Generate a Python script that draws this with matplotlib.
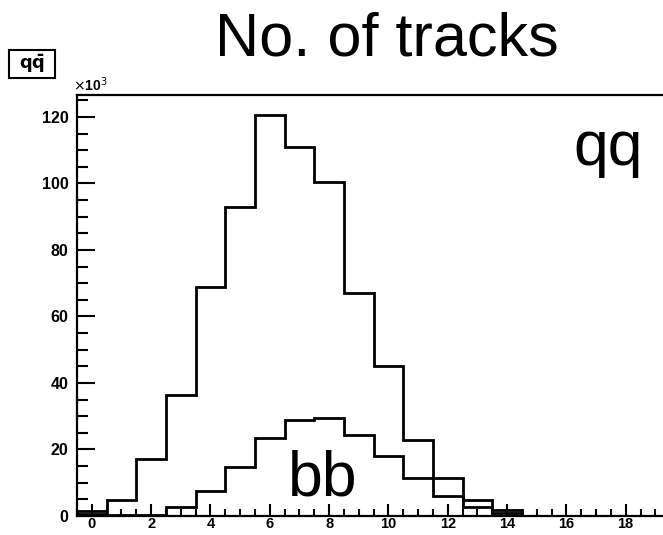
import numpy as np
import matplotlib
matplotlib.use("Agg")
from matplotlib import pyplot as plt
from matplotlib.patches import Rectangle
from matplotlib.ticker import MultipleLocator

# bin contents in units of 10^3, bins centred on 0,1,...,19
n_tracks = np.arange(0, 20)
qq_counts = [1.5, 4.9, 17.0, 36.3, 69.0, 93.0, 120.6, 111.0, 100.5, 67.0,
             45.0, 22.9, 11.3, 4.9, 1.9, 0.15, 0, 0, 0, 0]
bb_counts = [0.7, 0.2, 0.3, 2.7, 7.6, 14.8, 23.6, 28.9, 29.4, 24.4,
             18.0, 11.3, 6.1, 2.8, 0.9, 0.15, 0, 0, 0, 0]
edges = np.append(n_tracks - 0.5, n_tracks[-1] + 0.5)
x_ticks = [0, 2, 4, 6, 8, 10, 12, 14, 16, 18]

W, H = 663, 535
plt.rcParams['font.family'] = ['Liberation Sans', 'DejaVu Sans']

fig = plt.figure(figsize=(W / 100, H / 100), dpi=100)
ax = fig.add_axes([77 / W, 19 / H, 608 / W, 421 / H])

ax.stairs(qq_counts, edges, color='black', lw=2)
ax.stairs(bb_counts, edges, color='black', lw=2)

ax.set_xlim(-0.5, 20)
ax.set_ylim(0, 126.6)
ax.set_xticks(x_ticks)
ax.xaxis.set_minor_locator(MultipleLocator(0.5))
ax.yaxis.set_major_locator(MultipleLocator(20))
ax.yaxis.set_minor_locator(MultipleLocator(5))
ax.tick_params(axis='x', which='major', direction='in', length=9, width=1.5, pad=0.5)
ax.tick_params(axis='x', which='minor', direction='in', length=5, width=1.5)
ax.tick_params(axis='y', which='major', direction='in', length=13, width=1.5, pad=6)
ax.tick_params(axis='y', which='minor', direction='in', length=8, width=1.5)
for lab in ax.get_yticklabels():
    lab.set_fontweight('bold')
    lab.set_fontsize(11.5)
for lab in ax.get_xticklabels():
    lab.set_fontweight('bold')
    lab.set_fontsize(10.5)
for s in ['left', 'bottom', 'top']:
    ax.spines[s].set_linewidth(1.6)
ax.spines['right'].set_visible(False)

fig.text(387 / W, 1 - 55 / H, 'No. of tracks', ha='center', va='baseline', size=44)
fig.text(573 / W, 1 - 165 / H, 'qq', ha='left', va='baseline', size=45)
fig.text(288 / W, 1 - 495 / H, 'bb', ha='left', va='baseline', size=45)
fig.text(73 / W, 1 - 91 / H, r'$\times$10$^{3}$', ha='left', va='baseline', size=10, fontweight='bold')

fig.patches.append(Rectangle((9 / W, 1 - 78 / H), 46 / W, 28 / H, transform=fig.transFigure,
                             fill=False, lw=1.5, edgecolor='black'))
fig.text(32 / W, 1 - 64 / H, r'$\mathbf{q\bar{q}}$', ha='center', va='center', size=13)

fig.savefig('out.png', dpi=100)
